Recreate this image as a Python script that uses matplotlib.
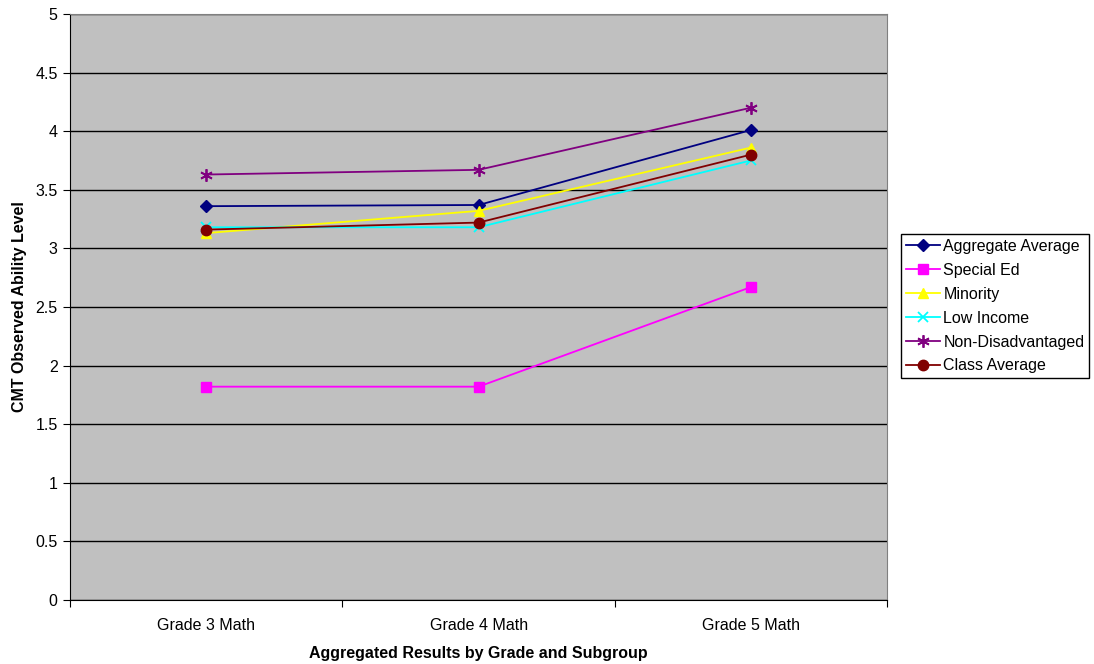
import matplotlib
matplotlib.use("Agg")
import matplotlib.pyplot as plt

categories = ["Grade 3 Math", "Grade 4 Math", "Grade 5 Math"]
aggregate_average = [3.36, 3.37, 4.01]
special_ed = [1.82, 1.82, 2.67]
minority = [3.13, 3.32, 3.86]
low_income = [3.18, 3.18, 3.75]
non_disadvantaged = [3.63, 3.67, 4.20]
class_average = [3.16, 3.22, 3.80]

series = [
    ("Aggregate Average", aggregate_average, "#000080", "D", 6),
    ("Special Ed", special_ed, "#FF00FF", "s", 7),
    ("Minority", minority, "#FFFF00", "^", 7),
    ("Low Income", low_income, "#00FFFF", "x", 7),
    ("Non-Disadvantaged", non_disadvantaged, "#800080", (6, 2, 0), 9),
    ("Class Average", class_average, "#800000", "o", 7.5),
]

plt.rcParams["font.family"] = ["Liberation Sans", "DejaVu Sans"]

fig = plt.figure(figsize=(10.94, 6.64), dpi=100)
ax = fig.add_axes([0.064, 0.0964, 0.747, 0.8826])
ax.set_facecolor("#C0C0C0")

x = [0.5, 1.5, 2.5]
for name, vals, color, marker, ms in series:
    kw = dict(markeredgecolor=color, markerfacecolor=color)
    if marker in ("x",) or isinstance(marker, tuple):
        kw["markeredgewidth"] = 1.3
    ax.plot(x, vals, color=color, linewidth=1.3, marker=marker,
            markersize=ms, label=name, **kw)

ax.set_xlim(0, 3)
ax.set_ylim(0, 5)
ax.set_yticks([0, 0.5, 1, 1.5, 2, 2.5, 3, 3.5, 4, 4.5, 5])
ax.set_yticklabels(["0", "0.5", "1", "1.5", "2", "2.5", "3", "3.5", "4", "4.5", "5"])
ax.set_xticks([0, 1, 2, 3])
ax.set_xticklabels([])
ax.set_xticks(x, minor=True)
ax.set_xticklabels(categories, minor=True)
ax.tick_params(axis="x", which="minor", length=0, pad=13, labelsize=11.5)
ax.tick_params(axis="x", which="major", direction="out", length=5, color="black")
ax.tick_params(axis="y", direction="out", length=5, labelsize=11.5, pad=4)
ax.yaxis.grid(True, color="black", linewidth=1)
ax.set_axisbelow(True)

for s in ("top", "right"):
    ax.spines[s].set_color("#808080")
for s in ("left", "bottom"):
    ax.spines[s].set_color("black")

ax.set_ylabel("CMT Observed Ability Level", fontsize=11.5, fontweight="bold", labelpad=6)
ax.set_xlabel("Aggregated Results by Grade and Subgroup", fontsize=11.5, fontweight="bold", labelpad=9)

leg = ax.legend(loc="upper left", bbox_to_anchor=(1.017, 0.6246), fontsize=11.5,
                frameon=True, fancybox=False, edgecolor="black", framealpha=1,
                borderpad=0.3, labelspacing=0.56, handlelength=2.15,
                handletextpad=0.2, borderaxespad=0)
leg.get_frame().set_linewidth(1)

fig.savefig("out.png", dpi=100)
